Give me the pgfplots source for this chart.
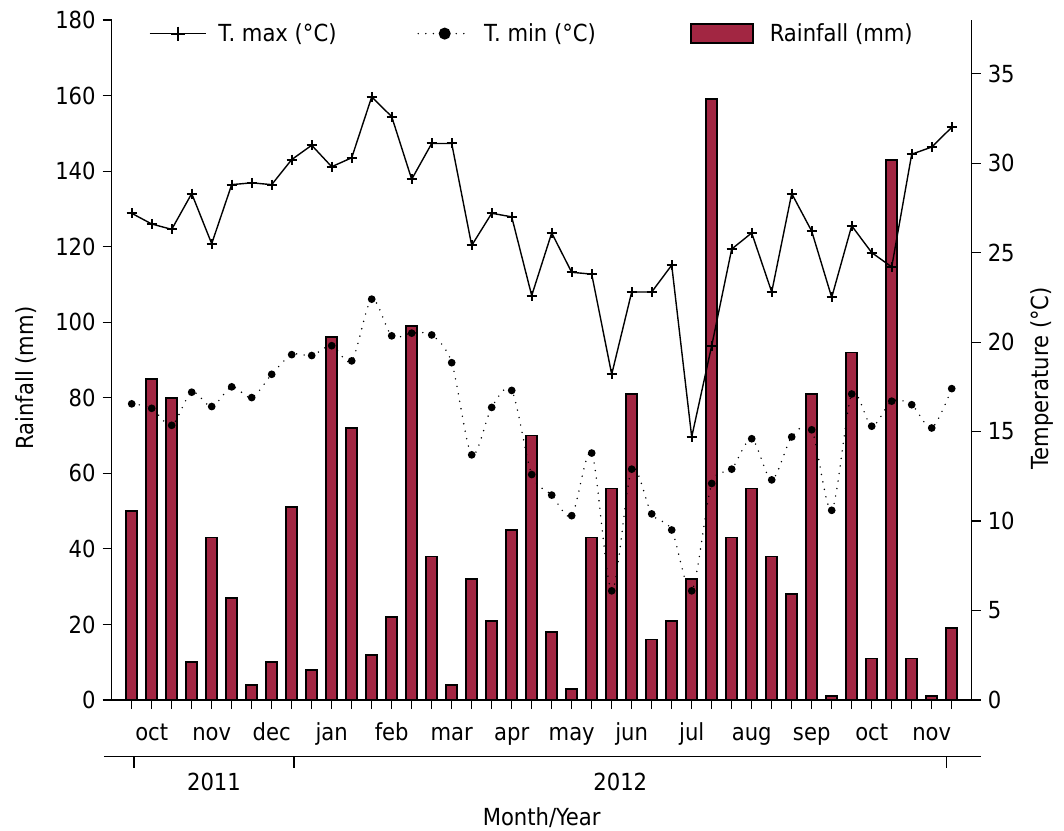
\documentclass[border=0pt]{standalone}
\usepackage{fontspec}
\setmainfont{DejaVu Sans Condensed}
\usepackage{pgfplots}
\usepackage{pgfplotstable}
\pgfplotsset{compat=1.18}
\definecolor{barred}{RGB}{162,38,66}

\pgfplotsset{
  tmaxleg/.style={legend image code/.code={\draw[mark repeat=2,mark phase=2,##1, mark size=3.5pt] plot coordinates {(0pt,3.85pt) (14pt,3.85pt) (28pt,3.85pt)};}},
  tminleg/.style={legend image code/.code={\draw[mark repeat=2,mark phase=2,##1, mark size=2.6pt] plot coordinates {(0pt,3.85pt) (13.25pt,3.85pt) (26.5pt,3.85pt)};}},
  barleg/.style={legend image code/.code={\draw[##1] (0pt,-0.9pt) rectangle (31pt,8.6pt); \path (33pt,0pt);}},
}

\pgfplotstableread{
x rain
0 50
1 85
2 80
3 10
4 43
5 27
6 4
7 10
8 51
9 8
10 96
11 72
12 12
13 22
14 99
15 38
16 4
17 32
18 21
19 45
20 70
21 18
22 3
23 43
24 56
25 81
26 16
27 21
28 32
29 159
30 43
31 56
32 38
33 28
34 81
35 1
36 92
37 11
38 143
39 11
40 1
41 19
}\raintable

\pgfplotstableread{
x tmax tmin
0 27.2 16.55
1 26.6 16.3
2 26.3 15.35
3 28.3 17.2
4 25.5 16.4
5 28.8 17.5
6 28.9 16.9
7 28.8 18.2
8 30.2 19.3
9 31.0 19.25
10 29.8 19.8
11 30.3 18.95
12 33.7 22.4
13 32.6 20.35
14 29.1 20.5
15 31.1 20.4
16 31.1 18.85
17 25.4 13.7
18 27.2 16.35
19 27.0 17.3
20 22.6 12.6
21 26.1 11.45
22 23.9 10.3
23 23.8 13.8
24 18.2 6.1
25 22.8 12.9
26 22.8 10.4
27 24.3 9.5
28 14.7 6.1
29 19.8 12.1
30 25.2 12.9
31 26.1 14.6
32 22.8 12.3
33 28.3 14.7
34 26.2 15.1
35 22.5 10.6
36 26.5 17.1
37 25.0 15.3
38 24.2 16.7
39 30.5 16.5
40 30.9 15.2
41 32.0 17.4
}\temptable

\begin{document}
\begin{tikzpicture}[font=\fontsize{11.75}{14}\selectfont]
\pgfplotsset{
  common/.style={
    scale only axis, width=430pt, height=340pt,
    xmin=-1, xmax=42,
    axis line style={line width=0.65pt,-},
    tick align=outside,
    major tick length=4.5pt,
    tick style={line width=0.6pt, black},
    /pgf/number format/assume math mode=true,
    clip=false,
  }
}
\begin{axis}[
  common, name=ax1,
  ymin=0, ymax=180,
  axis x line*=bottom, axis y line*=left,
  ytick={0,20,...,180},
  xtick={0,...,41},
  xticklabels={,oct,,,nov,,,dec,,,jan,,,feb,,,mar,,,apr,,,may,,,jun,,,jul,,,aug,,,sep,,,oct,,,nov,},
  xticklabel style={anchor=base, yshift=-15.5pt},
  xlabel={Month/Year},
  every axis x label/.style={at={([yshift=-59pt]axis description cs:0.5,0)}, anchor=center},
  ylabel={Rainfall (mm)},
  every axis y label/.style={at={([xshift=-42.85pt]axis description cs:0,0.4735)}, rotate=90, anchor=center},
]
\addplot[ybar, bar width=0.55, bar shift=0pt, fill=barred, draw=black, line width=0.9pt] table[x=x, y=rain] {\raintable};
% year axis below
\draw[line width=0.65pt] (axis cs:-1.385,-15.0) -- (axis cs:42.465,-15.0);
\draw[line width=0.6pt] (axis cs:0.115,-15.0) -- (axis cs:0.115,-18.1);
\draw[line width=0.6pt] (axis cs:8.115,-15.0) -- (axis cs:8.115,-18.1);
\draw[line width=0.6pt] (axis cs:40.75,-15.0) -- (axis cs:40.75,-18.1);
\node[anchor=center] at (axis cs:4.115,-21.6) {2011};
\node[anchor=center] at (axis cs:24.43,-21.6) {2012};
\end{axis}

\begin{axis}[
  common,
  ymin=0, ymax=38,
  axis x line=none, axis y line*=right,
  ytick={0,5,...,35},
  ylabel={Temperature (°C)},
  every axis y label/.style={at={([xshift=35.15pt]axis description cs:1,0.4735)}, rotate=90, anchor=center},
  legend style={draw=none, fill=none, inner sep=0pt, outer sep=0pt,
    at={([xshift=18.65pt,yshift=-1.6pt]axis description cs:0,1)}, anchor=north west,
    nodes={inner sep=0pt, anchor=base west},
    /tikz/every odd column/.style={column sep=6pt},
    /tikz/every even column/.style={column sep=0pt}},
  legend columns=3,
]
\addplot[black, line width=0.7pt, mark=+, mark size=2.5pt, mark options={line width=1pt}, tmaxleg]
  table[x=x, y=tmax] {\temptable};
\addlegendentry{\makebox[99.5pt][l]{T. max (°C)}}
\addplot[black, line width=0.8pt, line cap=round, dash pattern=on 0pt off 3.8pt, smooth, mark=*, mark size=1.5pt, mark options={solid}, tminleg]
  table[x=x, y=tmin] {\temptable};
\addlegendentry{\makebox[103pt][l]{T. min (°C)}}
\addlegendimage{fill=barred, draw=black, line width=0.9pt, barleg}
\addlegendentry{Rainfall (mm)}
\end{axis}
\pgfresetboundingbox
\path[use as bounding box] ([shift={(-55.85pt,-65pt)}]ax1.south west) rectangle ([shift={(46.15pt,10pt)}]ax1.north east);
\end{tikzpicture}
\end{document}
